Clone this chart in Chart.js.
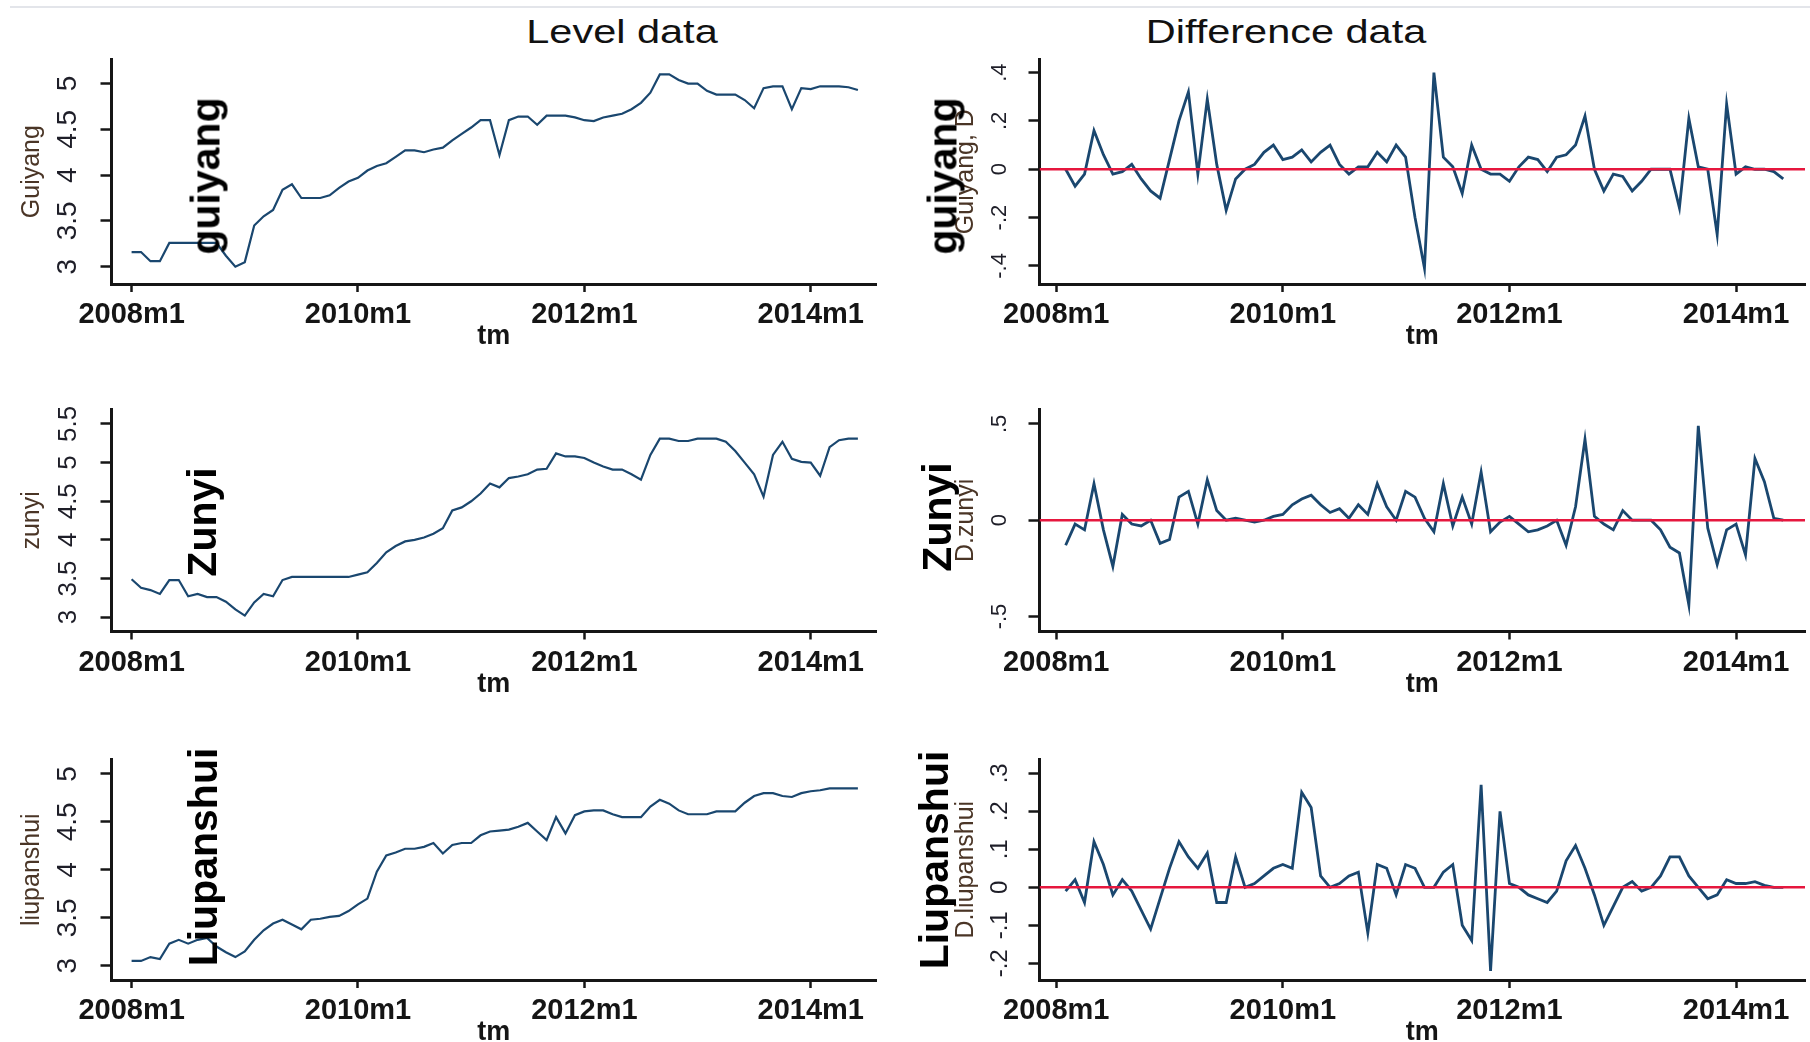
<!DOCTYPE html>
<html>
<head>
<meta charset="utf-8">
<title>Level and difference data</title>
<script src="https://cdn.jsdelivr.net/npm/chart.js@4.4.0/dist/chart.umd.min.js"></script>
<style>
  html, body { margin: 0; padding: 0; background: #fff; }
  body {
    position: relative; width: 1810px; height: 1042px; overflow: hidden;
    font-family: 'Liberation Sans', Arial, sans-serif;
  }
  .topline { position: absolute; left: 10px; top: 6px; width: 1800px; height: 2px; background: #e3e5ea; }
  .title {
    position: absolute; top: 14px; font-size: 34px; line-height: 1; color: #111;
    white-space: nowrap; transform: translateX(-50%) scaleX(1.22);
  }
  .city {
    position: absolute; z-index: 2; font-size: 41px; font-weight: bold; line-height: 1;
    color: #000; white-space: nowrap; transform: translate(-50%, -50%) rotate(-90deg);
  }
  canvas { position: absolute; z-index: 1; }
</style>
</head>
<body>
<div class="topline"></div>
<div class="title" style="left:622px">Level data</div>
<div class="title" style="left:1286px">Difference data</div>

<div class="city" style="left:206px; top:176px">guiyang</div>
<div class="city" style="left:202px; top:522px">Zunyi</div>
<div class="city" style="left:203px; top:857px">Liupanshui</div>
<div class="city" style="left:943px; top:176px">guiyang</div>
<div class="city" style="left:937px; top:517px">Zunyi</div>
<div class="city" style="left:934px; top:860px">Liupanshui</div>

<script>
// months counted from 2008m1; level series start at 2008m1, differences at 2008m2
const X_TICKS = [0, 24, 48, 72];
const X_TICK_LABELS = ['2008m1', '2010m1', '2012m1', '2014m1'];
const LEVEL_START = 0;
const DIFF_START = 1;

const guiyangLevel = [
  3.16, 3.16, 3.06, 3.06, 3.26, 3.26, 3.26, 3.26, 3.26, 3.26,
  3.12, 3.0, 3.05, 3.45, 3.55, 3.62, 3.84, 3.9, 3.75, 3.75,
  3.75, 3.78, 3.86, 3.93, 3.97, 4.05, 4.1, 4.13, 4.2, 4.27,
  4.27, 4.25, 4.28, 4.3, 4.38, 4.45, 4.52, 4.6, 4.6, 4.22,
  4.6, 4.64, 4.64, 4.55, 4.65, 4.65, 4.65, 4.63, 4.6, 4.59,
  4.63, 4.65, 4.67, 4.72, 4.79, 4.9, 5.1, 5.1, 5.04, 5.0,
  5.0, 4.92, 4.88, 4.88, 4.88, 4.82, 4.73, 4.95, 4.97, 4.97,
  4.72, 4.95, 4.94, 4.97, 4.97, 4.97, 4.96, 4.93
];
const guiyangDiff = [
  0, -0.07, -0.02, 0.16, 0.06, -0.02, -0.01, 0.02, -0.04, -0.09,
  -0.12, 0.04, 0.2, 0.32, -0.02, 0.29, 0.02, -0.17, -0.04, 0,
  0.02, 0.07, 0.1, 0.04, 0.05, 0.08, 0.03, 0.07, 0.1, 0.02,
  -0.02, 0.01, 0.01, 0.07, 0.03, 0.1, 0.05, -0.2, -0.41, 0.4,
  0.05, 0.01, -0.1, 0.1, 0, -0.02, -0.02, -0.05, 0.01, 0.05,
  0.04, -0.01, 0.05, 0.06, 0.1, 0.22, 0, -0.09, -0.02, -0.03,
  -0.09, -0.05, 0, 0, 0, -0.16, 0.21, 0.01, 0, -0.27,
  0.27, -0.02, 0.01, 0, 0, -0.01, -0.04
];
const zunyiLevel = [
  3.49, 3.38, 3.35, 3.3, 3.48, 3.48, 3.27, 3.3, 3.26, 3.26,
  3.2, 3.1, 3.02, 3.19, 3.3, 3.27, 3.48, 3.52, 3.52, 3.52,
  3.52, 3.52, 3.52, 3.52, 3.55, 3.58, 3.7, 3.84, 3.92, 3.98,
  4.0, 4.03, 4.08, 4.15, 4.38, 4.42, 4.5, 4.6, 4.73, 4.68,
  4.8, 4.82, 4.85, 4.91, 4.92, 5.12, 5.08, 5.08, 5.06, 5.0,
  4.95, 4.91, 4.91, 4.85, 4.78, 5.1, 5.31, 5.31, 5.28, 5.28,
  5.31, 5.31, 5.31, 5.27, 5.15, 5.0, 4.85, 4.56, 5.1, 5.27,
  5.05, 5.01, 5.0, 4.83, 5.2, 5.29, 5.31, 5.31
];
const zunyiDiff = [
  -0.13, -0.02, -0.05, 0.19, -0.05, -0.24, 0.03, -0.02, -0.03, 0,
  -0.12, -0.1, 0.12, 0.15, -0.02, 0.21, 0.05, 0, 0.01, 0,
  -0.01, 0, 0.02, 0.03, 0.08, 0.11, 0.13, 0.08, 0.04, 0.06,
  0.01, 0.08, 0.03, 0.19, 0.07, 0, 0.15, 0.12, 0.01, -0.06,
  0.19, -0.03, 0.12, -0.02, 0.25, -0.06, -0.01, 0.02, -0.02, -0.06,
  -0.05, -0.03, 0, -0.13, 0.07, 0.42, 0.02, -0.02, -0.05, 0.05,
  0, 0, 0, -0.05, -0.14, -0.17, -0.44, 0.49, -0.04, -0.23,
  -0.05, -0.02, -0.18, 0.32, 0.2, 0.01, 0
];
const liupanshuiLevel = [
  3.05, 3.05, 3.09, 3.07, 3.23, 3.27, 3.23, 3.27, 3.29, 3.2,
  3.14, 3.09, 3.15, 3.27, 3.37, 3.44, 3.48, 3.43, 3.38, 3.48,
  3.49, 3.51, 3.52, 3.57, 3.64, 3.7, 3.98, 4.15, 4.18, 4.22,
  4.22, 4.24, 4.28, 4.17, 4.26, 4.28, 4.28, 4.36, 4.4, 4.41,
  4.42, 4.45, 4.49, 4.4, 4.31, 4.55, 4.38, 4.57, 4.61, 4.62,
  4.62, 4.58, 4.55, 4.55, 4.55, 4.66, 4.73, 4.69, 4.62, 4.58,
  4.58, 4.58, 4.61, 4.61, 4.61, 4.7, 4.77, 4.8, 4.8, 4.77,
  4.76, 4.8, 4.82, 4.83, 4.85, 4.85, 4.85, 4.85
];
const liupanshuiDiff = [
  -0.01, 0.02, -0.04, 0.12, 0.06, -0.02, 0.02, -0.01, -0.06, -0.11,
  -0.03, 0.05, 0.12, 0.08, 0.05, 0.09, -0.04, -0.04, 0.08, 0,
  0.01, 0.03, 0.05, 0.06, 0.05, 0.25, 0.21, 0.03, 0, 0.01,
  0.03, 0.04, -0.12, 0.06, 0.05, -0.02, 0.06, 0.05, 0, 0,
  0.04, 0.06, -0.1, -0.14, 0.27, -0.22, 0.2, 0.01, 0, -0.02,
  -0.03, -0.04, -0.01, 0.07, 0.11, 0.05, -0.02, -0.1, -0.05, 0,
  0.015, -0.01, 0, 0.03, 0.08, 0.08, 0.03, 0, -0.03, -0.02,
  0.02, 0.01, 0.01, 0.015, 0.005, 0, 0
];

const guiyangLevelTicks = [3, 3.5, 4, 4.5, 5];
const guiyangLevelLabels = ['3', '3.5', '4', '4.5', '5'];
const guiyangDiffTicks = [-0.4, -0.2, 0, 0.2, 0.4];
const guiyangDiffLabels = ['-.4', '-.2', '0', '.2', '.4'];
const zunyiLevelTicks = [3, 3.5, 4, 4.5, 5, 5.5];
const zunyiLevelLabels = ['3', '3.5', '4', '4.5', '5', '5.5'];
const zunyiDiffTicks = [-0.5, 0, 0.5];
const zunyiDiffLabels = ['-.5', '0', '.5'];
const liupanshuiLevelTicks = [3, 3.5, 4, 4.5, 5];
const liupanshuiLevelLabels = ['3', '3.5', '4', '4.5', '5'];
const liupanshuiDiffTicks = [-0.2, -0.1, 0, 0.1, 0.2, 0.3];
const liupanshuiDiffLabels = ['-.2', '-.1', '0', '.1', '.2', '.3'];

const FONT = "'Liberation Sans', Arial, sans-serif";
const AXIS_COLOR = '#161616';
const LINE_COLOR = '#1a476f';
const ZERO_COLOR = '#e6173e';
const X_AXIS_H = 61;
const TICK_X = 8;
const TICK_Y = 11;

// page geometry of the two columns and three rows
const COLS = {
  level: { x: 0, w: 905, left: 111.5, right: 876, xMin: -2.13, xMax: 78.92, labelOffset: 43, titleX: 32.5, lineWidth: 2.2 },
  diff: { x: 905, w: 905, left: 1039.5, right: 1805, xMin: -1.77, xMax: 79.3, labelOffset: 39.5, titleX: 966, lineWidth: 2.8 }
};
const ROWS = [
  { y: 0, h: 360, top: 59.3, bottom: 284 },
  { y: 360, h: 345, top: 409.3, bottom: 631.5 },
  { y: 705, h: 337, top: 759.3, bottom: 980 }
];

const measureCtx = document.createElement('canvas').getContext('2d');
function textWidth(str, size) {
  measureCtx.font = `${size}px ${FONT}`;
  return measureCtx.measureText(str).width;
}

function toPoints(values, start) {
  return values.map((v, i) => ({ x: start + i, y: v }));
}

function makePanel(p) {
  const col = COLS[p.col];
  const row = ROWS[p.row];
  const canvas = document.createElement('canvas');
  canvas.width = col.w;
  canvas.height = row.h;
  canvas.style.left = col.x + 'px';
  canvas.style.top = row.y + 'px';
  document.body.appendChild(canvas);

  const widest = Math.max(...p.yLabels.map((l) => textWidth(l, p.yFont)));
  const yTickPad = col.labelOffset - TICK_Y - widest / 2;

  const datasets = [{
    data: toPoints(p.values, p.start),
    borderColor: LINE_COLOR,
    borderWidth: col.lineWidth,
    pointRadius: 0,
    tension: 0,
    fill: false,
    order: 1
  }];
  if (p.zeroLine) {
    datasets.push({
      data: [{ x: col.xMin, y: 0 }, { x: col.xMax, y: 0 }],
      borderColor: ZERO_COLOR,
      borderWidth: 2.6,
      pointRadius: 0,
      order: 0
    });
  }

  return new Chart(canvas, {
    type: 'line',
    data: { datasets },
    options: {
      responsive: false,
      animation: false,
      devicePixelRatio: 1,
      events: [],
      layout: {
        padding: {
          left: 0,
          top: row.top - row.y,
          right: col.x + col.w - col.right,
          bottom: row.y + row.h - row.bottom - X_AXIS_H
        }
      },
      plugins: { legend: { display: false }, tooltip: { enabled: false } },
      scales: {
        x: {
          type: 'linear',
          position: 'bottom',
          min: col.xMin,
          max: col.xMax,
          afterBuildTicks: (s) => { s.ticks = X_TICKS.map((v) => ({ value: v })); },
          afterFit: (s) => { s.height = X_AXIS_H; },
          grid: { drawOnChartArea: false, drawTicks: true, tickLength: TICK_X, tickColor: AXIS_COLOR, tickWidth: 2.5 },
          border: { display: true, color: AXIS_COLOR, width: 3 },
          ticks: {
            autoSkip: false, maxRotation: 0, minRotation: 0, padding: 6,
            color: '#151515',
            font: { family: FONT, size: 29, weight: 'bold' },
            callback: (v, i) => X_TICK_LABELS[i]
          },
          title: {
            display: true, text: 'tm', color: '#151515', padding: 0,
            font: { family: FONT, size: 27, weight: 'bold', lineHeight: 0.6 }
          }
        },
        y: {
          type: 'linear',
          min: p.yMin,
          max: p.yMax,
          afterBuildTicks: (s) => { s.ticks = p.yTicks.map((v) => ({ value: v })); },
          afterFit: (s) => { s.width = col.left - col.x; },
          grid: { drawOnChartArea: false, drawTicks: true, tickLength: TICK_Y, tickColor: AXIS_COLOR, tickWidth: 2.5 },
          border: { display: true, color: AXIS_COLOR, width: 3 },
          ticks: {
            autoSkip: false, minRotation: 90, maxRotation: 90, crossAlign: 'center',
            padding: yTickPad,
            color: '#1e1e28',
            font: { family: FONT, size: p.yFont },
            callback: (v, i) => p.yLabels[i]
          },
          title: {
            display: true, text: p.yTitle, color: '#4a3526',
            padding: { top: col.titleX - col.x - 15, bottom: 0 },
            font: { family: FONT, size: 25, lineHeight: 1.2 }
          }
        }
      }
    }
  });
}

makePanel({ col: 'level', row: 0, values: guiyangLevel, start: LEVEL_START, yMin: 2.811, yMax: 5.265,
  yTicks: guiyangLevelTicks, yLabels: guiyangLevelLabels, yFont: 28, yTitle: 'Guiyang' });
makePanel({ col: 'diff', row: 0, values: guiyangDiff, start: DIFF_START, yMin: -0.475, yMax: 0.455,
  yTicks: guiyangDiffTicks, yLabels: guiyangDiffLabels, yFont: 22, yTitle: 'Guiyang, D', zeroLine: true });
makePanel({ col: 'level', row: 1, values: zunyiLevel, start: LEVEL_START, yMin: 2.814, yMax: 5.69,
  yTicks: zunyiLevelTicks, yLabels: zunyiLevelLabels, yFont: 26, yTitle: 'zunyi' });
makePanel({ col: 'diff', row: 1, values: zunyiDiff, start: DIFF_START, yMin: -0.578, yMax: 0.576,
  yTicks: zunyiDiffTicks, yLabels: zunyiDiffLabels, yFont: 22, yTitle: 'D.zunyi', zeroLine: true });
makePanel({ col: 'level', row: 2, values: liupanshuiLevel, start: LEVEL_START, yMin: 2.851, yMax: 5.153,
  yTicks: liupanshuiLevelTicks, yLabels: liupanshuiLevelLabels, yFont: 28, yTitle: 'liupanshui' });
makePanel({ col: 'diff', row: 2, values: liupanshuiDiff, start: DIFF_START, yMin: -0.244, yMax: 0.337,
  yTicks: liupanshuiDiffTicks, yLabels: liupanshuiDiffLabels, yFont: 24, yTitle: 'D.liupanshui', zeroLine: true });
</script>
</body>
</html>
